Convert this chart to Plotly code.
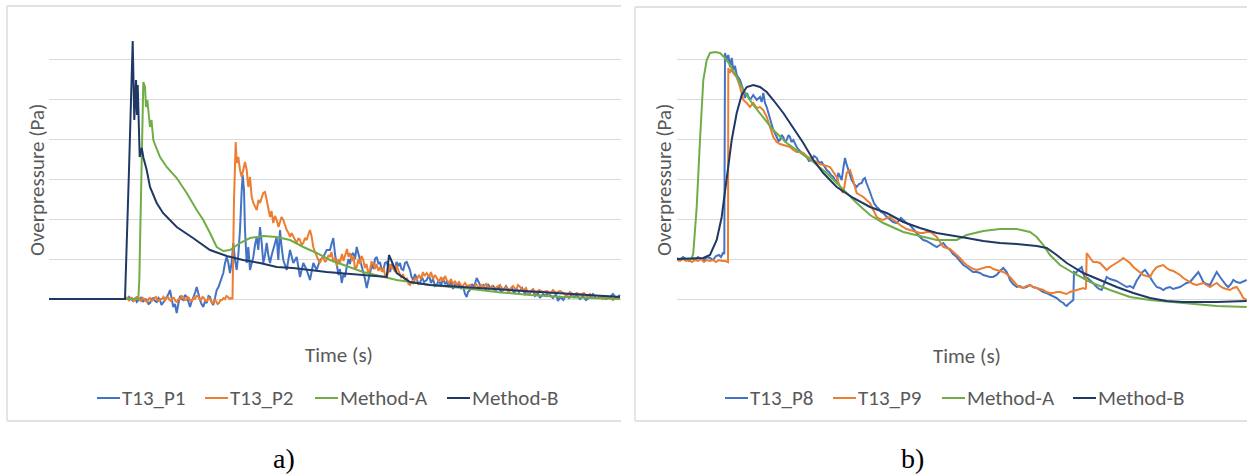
import plotly.graph_objects as go

# ---------------- Panel a) data (time in ms, overpressure in Pa) ----------------
a_P1_t = [79, 80, 81, 82.5, 84, 86, 87.7, 89.5, 91, 92.5, 94, 96, 97.7, 99.5, 101, 102.5, 104.3, 106, 107.7,
          109.5, 111, 112.5, 114.3, 116, 117.7, 119.5, 121, 122.5, 124.3, 126, 127.7, 129.5, 131, 132.5, 134.3,
          136, 137.7, 139.5, 141, 142.5, 144.3, 146, 147.7, 149.5, 151, 152.5, 154.3, 156, 157.7, 159.5, 161,
          162.5, 164.3, 166, 167.7, 169.5, 171, 172.5, 174.3, 176, 177.7, 179.3,
          181, 182.7, 184.3, 186, 187.7, 189.3, 191, 192.7, 193.7, 195, 196, 197.7, 199.3, 201, 202.7, 204.3,
          206, 207.7, 209.3, 211, 212.7, 214.3, 216, 217.7, 219.3, 221, 222.7, 224.3, 227.7, 229.3, 231, 232.7,
          234.3, 237.7, 239.3, 241, 244.3, 247.7, 251, 254.3, 257.7, 261, 264.3, 267.7, 271, 274.3, 277.7,
          281, 282.5, 284.3, 286, 287.7, 289.5, 291, 292.7, 294.5, 296, 297.7, 299.5, 301, 302.5, 304.3, 306,
          307.7, 309.5, 311, 312.5, 314.3, 316, 317.7, 319.5, 321, 323, 324.5, 326, 327.7, 329.5, 331, 332.5,
          334.3, 336, 337.7, 339.5, 341, 343, 344.3, 346, 347.5, 349.5, 351, 352.5, 354.3, 356, 357.7, 359.5,
          361, 362.5, 364.3, 366, 368, 369.5, 371, 373, 375, 377.7, 380, 382, 384, 386, 387.7, 390, 392, 394,
          396, 397.7, 400, 402, 404, 406, 407.7, 410, 412, 414, 416, 417.7, 419, 421, 423, 425, 427.7, 430,
          432, 434.3, 437, 439, 441, 444.3, 447, 450, 452, 454.3, 457, 460, 463, 465, 467.7, 470, 473, 476,
          478, 481, 484, 486, 489, 491, 494, 497, 499, 501, 504, 507, 509, 511, 514.3, 517, 520, 523, 525,
          527.7, 531, 534, 537, 541, 544, 547, 551, 554, 557, 561, 564, 567, 571]
a_P1_p = [0, 2, 1, -1, -2, 1, -3, -1, 0, 2, -3, 0, -1, -5, -4, 0, 1, -2, -3,
          1, -1, -6, -4, -1, 2, 5, 9, 2, -8, -5, -14, -4, 3, 0, -1,
          4, 2, -3, -8, -3, 1, 6, 12, 4, -1, -5, -8, -2, -4, 3, 2,
          -3, -6, 1, 9, 12, 16, 22, 26, 36, 42, 36,
          26, 37, 56, 39, 29, 44, 69, 109, 124, 109, 69, 36, 52, 29, 37, 42,
          54, 62, 49, 72, 56, 36, 44, 56, 44, 36, 44, 49, 62, 39, 69, 51,
          39, 29, 37, 49, 36, 42, 22, 36, 29, 19, 36, 29, 39, 42, 49,
          49, 55, 61, 45, 32, 24, 30, 16, 25, 22, 32, 40, 35, 44, 46, 40,
          52, 45, 39, 33, 29, 20, 11, 20, 26, 35, 30, 40, 42, 35, 37, 30,
          29, 36, 37, 30, 27, 35, 32, 28, 37, 33, 36, 30, 29, 36, 37, 32,
          29, 22, 19, 25, 20, 15, 16, 22, 17, 19, 24, 16, 20, 13, 14, 19, 13, 21,
          15, 17, 12, 18, 10, 15, 12, 16, 10, 13, 5, 2, 7, 9, 15, 12, 21, 16,
          12, 14, 9, 15, 11, 13, 9, 12, 7, 9, 13, 8, 11, 6, 10, 7, 11, 5,
          8, 6, 9, 3, 6, 1, 5, 3, 7, 4, 1, 5, -2, 2, -1, 4, 1, 5, 2,
          4, 0, 3, -1, 2, 5, 1, 1, 3, 0, 2, 5, 1, 4]

a_P2_t = [77, 78.5, 80, 81.5, 83, 84.5, 86, 87.5, 89, 90.5, 92, 93.5, 95, 96.5, 98, 99.5, 101, 102.5, 104, 105.5,
          107, 108.5, 110, 111.5, 113, 114.5, 116, 117.5, 119, 120.5, 122, 123.5, 125, 126.5, 128, 129.5, 131,
          132.5, 134, 135.5, 137, 138.5, 140, 141.5, 143, 144.5, 146, 147.5, 149, 150.5, 152, 153.5, 155, 156.5,
          158, 159.5, 161, 162.5, 164, 165.5, 167, 168.5, 170, 171.5, 173, 174.5, 176, 177.5, 179, 180.5, 182,
          183.5, 185, 186.7, 187.7, 189.3, 191, 192.7, 194.3, 196, 197.7, 199.3, 201, 202.7, 204.3, 207.7, 209.5,
          211, 214.3, 216, 217.7, 219.5, 221, 222.5, 224.3, 226, 227.7, 229.5, 231, 232.5, 234.3, 236, 237.7,
          239.5, 241, 242.5, 244.3, 246, 247.7, 249.5, 251, 252.5, 254.3, 256, 257.7, 259.5, 261, 262.7, 264.3,
          266, 267.7, 269.3, 271, 272.5, 274.3, 276, 277.7, 279.5,
          281, 282.5, 284.3, 286, 288, 289.5, 291, 293, 294.5, 296, 298, 299.5, 301, 303, 304.5, 306, 307.7,
          309.5, 311, 312.5, 314.3, 316, 317.5, 319, 321, 322.5, 324.3, 326, 327.5, 329.5, 331, 333, 334.5,
          336, 337.7, 339.5, 341, 343, 344.3, 346, 347.5, 349.5, 351, 352.5, 354, 356, 358, 359.5, 361, 363,
          364.5, 366, 367.7, 370, 372, 374, 375.5, 377.7, 380, 382, 384, 386, 387.7, 390, 392, 394, 396, 397.7,
          400, 402, 404, 406, 407.7, 410, 413, 416, 418, 421, 424, 427, 430, 432, 434.3, 437, 440, 443, 445,
          447.7, 451, 454, 457, 459, 461, 464, 467, 469, 471, 474, 477, 479, 481, 484, 487, 490, 494, 497.7,
          501, 504, 507, 511, 514.3, 518, 521, 524, 528, 531, 535, 538, 541, 544, 547.7, 551, 554, 557, 561,
          564, 567, 571]
a_P2_p = [0, 2, -2, 1, 1, -2, -1, 2, 2, -1, -2, 1, 0, -2, -3, 0, 1, -2, -1, 1,
          2, -1, -2, 0, 0, 2, -1, 1, 2, -1, -2, 1, 1, -2, -3, 0, 0,
          3, 2, -1, -1, 2, 1, -2, -2, 1, 0, 3, 3, 0, -1, 2, 1, -2,
          -2, 1, 0, -3, -4, -1, -2, -5, -4, -1, -1, 1, 0, 3, 2, 0, 1,
          0, 99, 157, 136, 142, 129, 122, 129, 137, 129, 112, 122, 102, 96, 89, 99,
          96, 106, 107, 99, 89, 82, 88, 76, 83, 79, 72, 76, 82, 79, 73, 69,
          66, 62, 66, 62, 58, 56, 61, 59, 54, 56, 61, 59, 65, 69, 62, 52,
          47, 42, 39, 36, 40, 42, 37, 39, 44,
          42, 47, 37, 41, 33, 40, 36, 45, 38, 44, 50, 42, 46, 38, 43, 30, 32,
          40, 35, 43, 39, 31, 35, 27, 29, 37, 36, 30, 35, 28, 32, 27, 31,
          24, 22, 28, 35, 30, 32, 27, 34, 28, 24, 21, 25, 19, 21, 15, 14, 18,
          15, 21, 19, 24, 20, 27, 23, 26, 22, 27, 20, 24, 21, 17, 22, 18, 23, 19,
          16, 20, 15, 18, 14, 17, 12, 16, 13, 14, 10, 15, 11, 14, 12, 15, 10, 13, 9,
          12, 14, 9, 12, 8, 10, 13, 9, 14, 12, 8, 11, 6, 7, 10, 6, 9, 7, 8,
          5, 9, 6, 8, 6, 3, 7, 4, 6, 4, 6, 2, 5, 1, 1, 3, 0, 3, 2,
          -1, 2, 0]

a_A_t = [0, 89.3, 90.3, 92.7, 94.3, 96, 97, 98.3, 100, 101, 102.5, 104.3, 111, 117.7, 127.7, 137.7, 147.7, 154.3,
         161, 167.7, 174.3, 181, 191, 201, 214.3, 227.7, 241, 254.3, 267.7, 281, 314, 347.7, 381, 414, 447.7,
         481, 514, 571]
a_A_p = [0, 0, 19, 159, 217, 212, 192, 199, 182, 172, 179, 159, 142, 132, 121, 106, 89, 79,
         66, 52, 48, 49, 56, 61, 63, 62, 59, 52, 46, 39, 27, 19, 14, 11, 7,
         4, 2, 0]

a_B_t = [0, 76, 80, 83.7, 85.3, 87, 88, 88.7, 90.7, 92.7, 94.5, 97.7, 101, 107.7, 114, 127.7, 144, 157.7, 161,
         177.7, 194, 211, 227.7, 244, 261, 277.7, 337.7, 340, 347.7, 361, 381, 414, 447.7, 481, 514, 547.7, 571]
a_B_p = [0, 0, 129, 258, 179, 219, 184, 214, 142, 151, 141, 129, 112, 96, 86, 72, 61, 52, 49,
         43, 39, 36, 32, 31, 29, 27, 22, 44, 26, 17, 14, 12, 10, 8, 6, 4, 2]

# ---------------- Panel b) data ----------------
b_P8_t = [0, 3, 6, 9, 12, 15, 18, 21, 24, 27, 30, 33, 36, 39, 42, 44, 46, 47.3, 48, 49.7, 51.3, 53, 54.7, 56.3,
          58, 59.7, 63, 66.3, 68, 69.7, 73, 76.3, 79.7, 83, 84.7, 86.3, 88, 89.7, 93, 96.3,
          99.7, 101.5, 103, 104.5, 106.3, 108, 109.7, 111.5, 113, 114.5, 116.3, 118, 119.7, 122, 124.7, 127,
          129.7, 132, 134.7, 137, 139.7, 142, 144.7, 147, 149.7, 152, 154, 156.3, 158, 159.7, 161.3, 163, 164.7,
          166.5, 168, 169.5, 171.3, 173, 174.7, 177, 179.7, 182, 184.7, 186.5, 188, 189.5, 191.3, 193, 194.7,
          197, 199.7, 202, 204, 206.3, 209, 211, 213, 216, 219.7, 222, 224, 226.3, 229.5, 233, 236, 239.7, 243,
          246.3, 249.5, 253, 256, 259.7, 263, 266.3, 269.5, 273, 276, 279.7, 283, 286.3, 289.5, 293, 296,
          299.7, 303, 306.3, 309.5, 313, 316, 319.7, 323, 326.3, 328, 329.7, 331.5, 333, 336, 339.7, 343,
          346.3, 349.5, 353, 356, 359.7, 363, 366.3, 369.5, 373, 376, 379.7, 383, 386.3, 388, 389.7, 391.5,
          393, 395, 396.3, 397, 399, 401.3, 403, 404.7, 406.5, 408, 410.5, 413, 416, 419.7, 422, 424.7, 427,
          429.7, 433, 436.3, 439.5, 443, 446, 449.7, 453, 456.3, 459.5, 463, 465.5, 468, 470.5, 473, 476,
          479.7, 483, 486.3, 489.5, 493, 496, 499.7, 503, 506.3, 509.5, 513, 517, 521.3, 524, 526.3, 529.5,
          533, 536, 539.7, 543, 546.3, 549, 551.3, 554, 556.3, 559.5, 563, 566.5, 569.7]
b_P8_p = [1, -1, 2, 0, -2, 1, -1, 2, 0, -1, 2, 1, -1, 3, 4, 2, 6, 5, 206, 199, 204, 192, 201, 189,
          193, 184, 179, 169, 161, 166, 159, 164, 159, 162, 157, 166, 156, 152, 139, 129,
          122, 118, 119, 124, 122, 117, 119, 124, 122, 117, 119, 115, 112, 109, 106, 104,
          102, 98, 99, 103, 101, 96, 97, 93, 89, 87, 84, 82, 79, 76, 86, 83, 79,
          92, 101, 95, 89, 84, 79, 75, 72, 75, 76, 80, 81, 76, 72, 67, 62,
          56, 52, 50, 47, 46, 43, 41, 39, 37, 36, 39, 41, 39, 36, 34, 30, 26, 22,
          19, 18, 16, 14, 12, 14, 16, 12, 9, 5, 2, -2, -6, -8, -11, -13,
          -13, -14, -16, -17, -18, -18, -16, -12, -9, -11, -13, -17, -21, -25, -28, -27,
          -29, -28, -26, -28, -29, -31, -33, -34, -36, -37, -39, -42, -44, -46, -47, -45,
          -44, -42, -41, -13, -14, -11, -9, -8, -15, -19, -19, -21, -24, -28, -30, -31, -24,
          -18, -20, -21, -22, -24, -26, -28, -27, -29, -22, -16, -13, -11, -14, -18, -23,
          -28, -29, -31, -29, -28, -30, -29, -28, -26, -24, -23, -18, -13, -18, -23, -25,
          -26, -20, -13, -18, -23, -26, -28, -25, -21, -23, -24, -22, -21]

b_P9_t = [0, 3, 6, 9, 12, 15, 18, 21, 24, 27, 30, 33, 36, 39, 42, 45, 48, 51, 51.3, 53, 54.7, 56.3, 59.7, 63,
          66.3, 69.7, 73, 76.3, 79.7, 83, 86.3, 89.7, 93, 96.3,
          99.7, 103, 106.3, 109.5, 113, 116.3, 119.7, 123, 126.3, 129.5, 133, 136.3, 139.7, 143, 146.3, 149.5,
          153, 156.3, 159.7, 161.3, 163, 164.7, 166.3, 168, 169.7, 171.3, 173, 174.7, 176.3, 178, 179.7, 183,
          186.3, 189.5, 193, 196.3, 199.7, 203, 206.3, 209.5, 213, 216.3, 219.7, 223, 226.3, 229.5, 233, 236.3,
          239.7, 243, 246.3, 249.5, 253, 256.3, 259.7, 263, 266.3, 269.5, 273, 276.3, 279.7, 283, 286.3, 289.5,
          293, 296.3, 299.7, 303, 306.3, 309.5, 313, 316.3, 319.7, 323, 326.3, 329.5, 333, 336.3, 339.7, 343,
          346.3, 349.5, 353, 356.3, 359.7, 363, 366.3, 369.5, 373, 376.3, 379.7, 383, 386.3, 389.5, 393, 396.3,
          399.7, 403, 406.3, 408, 409, 409.7, 411.5, 413, 414.5, 416.3, 419.5, 423, 426.3, 429.7, 433, 436.3,
          439, 441.3, 444, 446.3, 449.5, 453, 456.3, 459.7, 463, 466.3, 469.5, 473, 476.3, 479.7, 483, 486.3,
          489.5, 493, 496.3, 499.7, 503, 506.3, 509.5, 513, 516.3, 519.7, 523, 526.3, 529.5, 533, 536.3, 539.7,
          543, 546.3, 549.5, 553, 556.3, 559.7, 563, 566.3, 569.7]
b_P9_p = [-1, -2, 0, -2, -1, -3, -1, -2, 0, -3, -1, -2, -1, -3, -1, -2, -2, -3, 191, 186, 191, 186, 182, 172,
          159, 156, 152, 156, 151, 152, 149, 142, 132, 122,
          117, 115, 114, 113, 112, 109, 107, 107, 106, 103, 101, 99, 97, 95, 94, 93,
          92, 87, 82, 77, 72, 68, 66, 76, 86, 88, 89, 84, 79, 72, 66, 64,
          62, 59, 56, 49, 42, 40, 39, 41, 42, 39, 37, 34, 32, 30, 29, 28,
          27, 26, 26, 27, 27, 25, 22, 17, 12, 11, 10, 7, 4, 1, -3, -6,
          -8, -10, -11, -10, -9, -8, -8, -10, -11, -12, -13, -15, -18, -22, -26, -28,
          -29, -27, -26, -28, -29, -30, -31, -33, -34, -34, -33, -33, -34, -35, -33, -32,
          -31, -30, -29, -30, -29, 6, 3, 1, -1, -3, -3, -4, -8, -11, -8, -6,
          -4, -3, -1, 1, -1, -4, -8, -11, -14, -16, -17, -18, -12, -8, -7, -6,
          -9, -11, -12, -14, -16, -19, -21, -23, -25, -26, -25, -24, -26, -28, -26, -24,
          -27, -29, -30, -31, -29, -28, -33, -39, -41]

b_A_t = [0, 14.7, 16.3, 19.7, 23, 24.7, 26.3, 29.7, 33, 38, 43, 48, 53, 59.7, 66.3, 76.3, 86.3, 96.3, 109.7,
         126.3, 136.3, 149.7, 166.3, 179.7, 193, 206.3, 226.3, 246.3, 259.7, 279.7, 289.7, 306.3, 323, 339.7,
         353, 359.7, 366.3, 373, 383, 396.3, 413, 433, 453, 473, 506.3, 539.7, 569.7]
b_A_p = [0, 0, 6, 52, 119, 152, 179, 199, 206, 207, 206, 201, 194, 182, 169, 154, 142, 129, 116,
         104, 97, 86, 69, 56, 44, 36, 27, 22, 19, 19, 24, 28, 30, 30,
         27, 22, 14, 4, -6, -14, -23, -31, -38, -41, -44, -47, -48]

b_B_t = [0, 26.3, 33, 39.7, 44.7, 49.7, 54.7, 59.7, 64.7, 69.7, 76.3, 83, 89.7, 96.3, 106.3, 116.3, 126.3, 136.3,
         146.3, 159.7, 176.3, 193, 209.7, 226.3, 243, 259.7, 273, 289.7, 306.3, 323, 339.7, 359.7, 369.7, 379.7,
         389.7, 406.3, 423, 439.7, 456.3, 473, 489.7, 506.3, 539.7, 569.7]
b_B_p = [0, 1, 4, 19, 42, 79, 119, 146, 164, 172, 174, 172, 167, 159, 146, 131, 116, 99,
         86, 72, 61, 52, 46, 37, 31, 26, 24, 21, 18, 16, 15, 13, 11, 4,
         -4, -14, -21, -28, -34, -39, -42, -43, -43, -42]

names_a = ["T13_P1", "T13_P2", "Method-A", "Method-B"]
names_b = ["T13_P8", "T13_P9", "Method-A", "Method-B"]
colors = ["#4472C4", "#ED7D31", "#70AD47", "#203864"]

W, H = 1247, 474
def X(px):
    return px / W
def Y(py):
    return 1 - py / H

fig = go.Figure()
series_a = [(a_P1_t, a_P1_p), (a_P2_t, a_P2_p), (a_A_t, a_A_p), (a_B_t, a_B_p)]
series_b = [(b_P8_t, b_P8_p), (b_P9_t, b_P9_p), (b_A_t, b_A_p), (b_B_t, b_B_p)]
for (t, p), n, c in zip(series_a, names_a, colors):
    fig.add_trace(go.Scatter(x=[v / 1000 for v in t], y=p, name=n, mode="lines",
                             line=dict(color=c, width=2), xaxis="x", yaxis="y", showlegend=False))
for (t, p), n, c in zip(series_b, names_b, colors):
    fig.add_trace(go.Scatter(x=[v / 1000 for v in t], y=p, name=n, mode="lines",
                             line=dict(color=c, width=2), xaxis="x2", yaxis="y2", showlegend=False))

ydom = [Y(339.5), Y(18.5)]
common_x = dict(showticklabels=False, showgrid=False, zeroline=False, showline=False, ticks="")
common_y = dict(showticklabels=False, showgrid=True, gridcolor="#D9D9D9", gridwidth=1.3,
                zeroline=False, showline=False, ticks="", dtick=40, tick0=0)
fig.update_layout(
    width=W, height=H, margin=dict(l=0, r=0, t=0, b=0),
    paper_bgcolor="white", plot_bgcolor="white",
    xaxis=dict(domain=[X(49), X(621)], range=[0, 0.572], **common_x),
    yaxis=dict(domain=ydom, range=[-40.5, 280.5], **common_y),
    xaxis2=dict(domain=[X(677), 1.0], range=[0, 0.570], anchor="y2", **common_x),
    yaxis2=dict(domain=ydom, range=[-80.5, 240.5], anchor="x2", **common_y),
)

border = "#D9D9D9"
shapes = []
for x0, y0, x1, y1 in [(7, 6, 621, 6), (7, 6, 7, 421), (7, 421, 621, 421),
                       (635, 7, 1247, 7), (635, 7, 635, 421), (635, 421, 1247, 421)]:
    shapes.append(dict(type="line", xref="paper", yref="paper", x0=X(x0), y0=Y(y0), x1=X(x1), y1=Y(y1),
                       line=dict(color=border, width=1.3)))

font_fam = "Carlito, Lato, sans-serif"
txt_col = "#595959"
fsize = 21
ann = []
ann.append(dict(text="Overpressure (Pa)", x=X(37), y=Y(180), textangle=-90))
ann.append(dict(text="Overpressure (Pa)", x=X(664), y=Y(180), textangle=-90))
ann.append(dict(text="Time (s)", x=X(339), y=Y(355)))
ann.append(dict(text="Time (s)", x=X(967), y=Y(356)))
for a in ann:
    a.update(xref="paper", yref="paper", showarrow=False, xanchor="center", yanchor="middle",
             font=dict(family=font_fam, size=fsize, color=txt_col))

leg_a_lines = [97, 205, 315, 447]
leg_b_lines = [725, 833, 942, 1073]
for starts, names in [(leg_a_lines, names_a), (leg_b_lines, names_b)]:
    for s, n, c in zip(starts, names, colors):
        shapes.append(dict(type="line", xref="paper", yref="paper", x0=X(s), x1=X(s + 23),
                           y0=Y(398), y1=Y(398), line=dict(color=c, width=2)))
        ann.append(dict(text=n, x=X(s + 23), y=Y(398), xref="paper", yref="paper", showarrow=False,
                        xanchor="left", yanchor="middle",
                        font=dict(family=font_fam, size=fsize, color=txt_col)))

for lab, cx in [("a)", 284), ("b)", 912)]:
    ann.append(dict(text=lab, x=X(cx), y=Y(458), xref="paper", yref="paper", showarrow=False,
                    xanchor="center", yanchor="middle",
                    font=dict(family="Liberation Serif, Times New Roman, serif", size=28, color="black")))

fig.update_layout(shapes=shapes, annotations=ann)
fig.write_html("out.html")
